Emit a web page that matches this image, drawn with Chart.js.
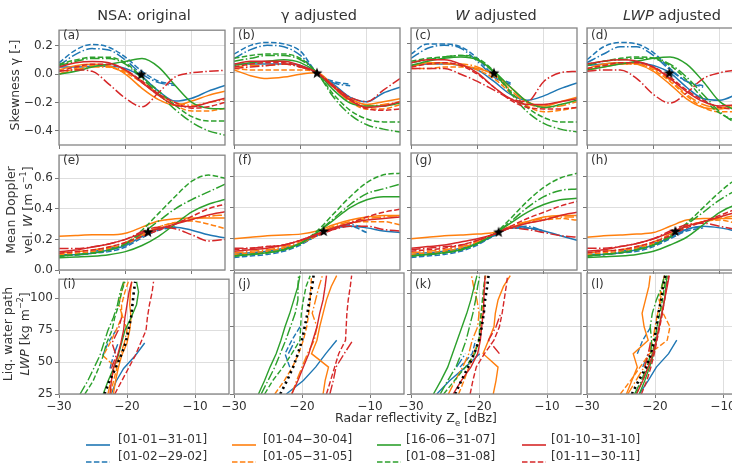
<!DOCTYPE html>
<html>
<head>
<meta charset="utf-8">
<script src="https://cdn.jsdelivr.net/npm/chart.js@4.4.1/dist/chart.umd.min.js"></script>
<style>
  body { margin: 0; width: 732px; height: 466px; overflow: hidden; background: #fff; position: relative;
         font-family: "DejaVu Sans", sans-serif; color: #333; }
  canvas { position: absolute; }
  .txt { position: absolute; white-space: nowrap; }
  .title { font-size: 14.5px; transform: translateX(-50%); top: 7px; line-height: 16px; }
  .tag { font-size: 12px; line-height: 12px; }
  .ylab { font-size: 12.5px; line-height: 13px; text-align: center; transform: translate(-50%, -50%) rotate(-90deg); }
  .leg { font-size: 12px; line-height: 14px; }
</style>
</head>
<body>
<script>
// x nodes (radar reflectivity, dBz) for the skewness and velocity rows
const zeNodes = [-30, -27.5, -25, -22.5, -20, -17.5, -15, -12.5, -10, -7.5, -5]
// y nodes (LWP, kg m-2) for the bottom row
const lwpNodes = [25, 35, 45, 55, 65, 75, 85, 95, 105, 113]

const periodLabels = ['[01-01\u221231-01]', '[01-02\u221229-02]', '[01-04\u221230-04]', '[01-05\u221231-05]',
  '[16-06\u221231-07]', '[01-08\u221231-08]', '[01-10\u221231-10]', '[01-11\u221230-11]']

// series order: Jan, Feb, Mar, Apr, May, Jun, Jul, Aug, Sep, Oct, Nov, Dec
const skewOriginal = [
  [0.05, 0.05, 0.055, 0.055, 0.04, -0.02, -0.12, -0.19, -0.17, -0.12, -0.08],
  [0.08, 0.17, 0.21, 0.19, 0.12, 0.02, -0.05, -0.07, null, null, null],
  [0.06, 0.14, 0.18, 0.17, 0.1, 0.0, -0.06, -0.08, null, null, null],
  [0.03, 0.06, 0.07, 0.06, 0.0, -0.1, -0.18, -0.22, -0.19, -0.15, -0.12],
  [0.0, 0.04, 0.06, 0.05, 0.01, -0.06, -0.15, -0.22, -0.26, -0.26, -0.24],
  [0.0, 0.03, 0.05, 0.05, 0.02, -0.05, -0.14, -0.2, -0.22, -0.2, -0.18],
  [0.0, 0.02, 0.05, 0.07, 0.09, 0.11, 0.05, -0.08, -0.2, -0.24, -0.245],
  [0.07, 0.1, 0.12, 0.12, 0.08, -0.02, -0.12, -0.22, -0.3, -0.33, -0.33],
  [0.06, 0.09, 0.11, 0.11, 0.07, -0.03, -0.14, -0.25, -0.34, -0.4, -0.43],
  [0.05, 0.08, 0.09, 0.08, 0.03, -0.06, -0.15, -0.22, -0.23, -0.2, -0.17],
  [0.02, 0.05, 0.07, 0.07, 0.03, -0.05, -0.14, -0.2, -0.24, -0.23, -0.2],
  [0.02, 0.03, 0.02, -0.07, -0.17, -0.23, -0.13, -0.02, 0.01, 0.02, 0.027]
]
const skewGammaAdj = [
  [0.06, 0.06, 0.06, 0.06, 0.05, 0, -0.08, -0.17, -0.2, -0.14, -0.1],
  [0.13, 0.19, 0.21, 0.2, 0.15, 0, -0.06, -0.08, null, null, null],
  [0.1, 0.16, 0.19, 0.18, 0.12, 0, -0.07, -0.09, null, null, null],
  [0.02, -0.02, -0.04, -0.03, -0.01, 0, -0.09, -0.18, -0.22, -0.2, -0.18],
  [0.03, 0.02, 0.02, 0.02, 0.02, 0, -0.1, -0.2, -0.25, -0.25, -0.22],
  [0.04, 0.05, 0.05, 0.06, 0.04, 0, -0.1, -0.2, -0.23, -0.22, -0.2],
  [0.05, 0.07, 0.08, 0.09, 0.07, 0, -0.12, -0.21, -0.23, -0.23, -0.21],
  [0.1, 0.12, 0.13, 0.13, 0.1, 0, -0.15, -0.26, -0.32, -0.34, -0.34],
  [0.08, 0.1, 0.12, 0.12, 0.09, 0, -0.17, -0.29, -0.36, -0.39, -0.41],
  [0.06, 0.08, 0.08, 0.08, 0.05, 0, -0.1, -0.19, -0.24, -0.23, -0.2],
  [0.04, 0.06, 0.07, 0.07, 0.04, 0, -0.09, -0.18, -0.25, -0.26, -0.25],
  [0.03, 0.04, 0.05, 0.06, 0.04, 0, -0.09, -0.17, -0.2, -0.12, -0.04]
]
const skewWAdj = [
  [0.05, 0.06, 0.06, 0.05, 0.02, -0.06, -0.15, -0.19, -0.16, -0.11, -0.07],
  [0.13, 0.2, 0.2, 0.18, 0.1, -0.02, -0.07, null, null, null, null],
  [0.1, 0.17, 0.19, 0.17, 0.08, -0.03, -0.08, null, null, null, null],
  [0.04, 0.07, 0.07, 0.05, 0.03, -0.01, -0.1, -0.2, -0.23, -0.2, -0.17],
  [0.03, 0.03, 0.04, 0.04, 0.02, -0.04, -0.14, -0.23, -0.27, -0.26, -0.24],
  [0.05, 0.06, 0.06, 0.06, 0.04, -0.02, -0.12, -0.21, -0.24, -0.23, -0.2],
  [0.05, 0.08, 0.1, 0.11, 0.09, 0.01, -0.1, -0.2, -0.24, -0.22, -0.19],
  [0.08, 0.1, 0.11, 0.12, 0.1, 0.01, -0.13, -0.24, -0.31, -0.34, -0.34],
  [0.07, 0.09, 0.11, 0.12, 0.09, 0.0, -0.14, -0.27, -0.35, -0.39, -0.41],
  [0.07, 0.09, 0.09, 0.06, 0.0, -0.1, -0.18, -0.22, -0.22, -0.2, -0.18],
  [0.04, 0.06, 0.07, 0.05, -0.01, -0.1, -0.19, -0.24, -0.25, -0.25, -0.24],
  [0.03, 0.03, 0.03, -0.01, -0.06, -0.12, -0.18, -0.2, -0.06, 0.0, 0.01]
]
const skewLwpAdj = [
  [0.05, 0.06, 0.07, 0.07, 0.05, 0.0, -0.1, -0.18, -0.19, -0.15, -0.1],
  [0.09, 0.18, 0.21, 0.2, 0.14, 0.03, -0.06, -0.1, null, null, null],
  [0.07, 0.13, 0.18, 0.18, 0.12, 0.02, -0.06, -0.09, null, null, null],
  [0.03, 0.06, 0.07, 0.06, 0.01, -0.08, -0.18, -0.24, -0.25, -0.23, -0.2],
  [0.02, 0.05, 0.06, 0.06, 0.02, -0.06, -0.16, -0.24, -0.27, -0.27, -0.25],
  [0.02, 0.04, 0.06, 0.06, 0.03, -0.05, -0.15, -0.22, -0.24, -0.23, -0.21],
  [0.02, 0.04, 0.06, 0.08, 0.1, 0.11, 0.06, -0.06, -0.2, -0.26, -0.28],
  [0.06, 0.08, 0.1, 0.11, 0.1, 0.05, -0.05, -0.18, -0.28, -0.33, -0.35],
  [0.05, 0.08, 0.09, 0.1, 0.1, 0.06, -0.03, -0.15, -0.27, -0.35, -0.4],
  [0.06, 0.08, 0.09, 0.08, 0.04, -0.04, -0.13, -0.2, -0.23, -0.22, -0.2],
  [0.03, 0.05, 0.07, 0.07, 0.04, -0.03, -0.12, -0.19, -0.24, -0.25, -0.24],
  [0.01, 0.02, 0.02, -0.04, -0.15, -0.21, -0.14, -0.04, 0.0, 0.02, 0.03]
]

const velOriginal = [
  [0.1, 0.1, 0.11, 0.13, 0.16, 0.22, 0.27, 0.28, 0.26, 0.23, 0.21],
  [0.09, 0.1, 0.11, 0.12, 0.15, 0.21, 0.26, 0.28, null, null, null],
  [0.1, 0.1, 0.12, 0.14, 0.17, 0.22, 0.27, 0.28, null, null, null],
  [0.22, 0.225, 0.23, 0.23, 0.24, 0.28, 0.32, 0.335, 0.34, 0.34, 0.34],
  [0.1, 0.11, 0.12, 0.14, 0.17, 0.22, 0.28, 0.31, 0.32, 0.3, 0.27],
  [0.11, 0.12, 0.13, 0.15, 0.18, 0.23, 0.28, 0.31, 0.33, 0.35, 0.36],
  [0.08, 0.085, 0.09, 0.1, 0.12, 0.16, 0.22, 0.3, 0.38, 0.43, 0.46],
  [0.09, 0.1, 0.11, 0.13, 0.17, 0.26, 0.37, 0.48, 0.58, 0.62, 0.6],
  [0.09, 0.1, 0.11, 0.13, 0.17, 0.24, 0.32, 0.4, 0.46, 0.51, 0.56],
  [0.12, 0.13, 0.15, 0.17, 0.2, 0.24, 0.27, 0.3, 0.33, 0.36, 0.38],
  [0.11, 0.12, 0.13, 0.15, 0.18, 0.22, 0.26, 0.3, 0.35, 0.4, 0.43],
  [0.14, 0.14, 0.15, 0.17, 0.2, 0.25, 0.28, 0.27, 0.23, 0.19, 0.2]
]
const velGammaAdj = [
  [0.1, 0.11, 0.12, 0.14, 0.17, 0.22, 0.27, 0.28, 0.27, 0.25, 0.24],
  [0.08, 0.09, 0.1, 0.12, 0.16, 0.22, 0.27, 0.28, 0.24, null, null],
  [0.1, 0.11, 0.12, 0.14, 0.17, 0.22, 0.27, 0.29, 0.27, null, null],
  [0.2, 0.21, 0.22, 0.225, 0.23, 0.25, 0.29, 0.32, 0.34, 0.35, 0.35],
  [0.1, 0.11, 0.12, 0.14, 0.17, 0.22, 0.27, 0.3, 0.31, 0.31, 0.29],
  [0.11, 0.12, 0.13, 0.15, 0.18, 0.23, 0.28, 0.31, 0.33, 0.34, 0.35],
  [0.09, 0.1, 0.11, 0.13, 0.17, 0.24, 0.32, 0.4, 0.45, 0.47, 0.47],
  [0.09, 0.1, 0.11, 0.13, 0.17, 0.25, 0.36, 0.47, 0.56, 0.61, 0.62],
  [0.09, 0.1, 0.11, 0.13, 0.17, 0.24, 0.33, 0.42, 0.49, 0.52, 0.55],
  [0.12, 0.13, 0.14, 0.16, 0.19, 0.23, 0.27, 0.3, 0.32, 0.33, 0.34],
  [0.13, 0.14, 0.15, 0.16, 0.19, 0.22, 0.26, 0.3, 0.34, 0.37, 0.39],
  [0.14, 0.14, 0.15, 0.16, 0.19, 0.23, 0.26, 0.28, 0.28, 0.26, 0.25]
]
const velWAdj = [
  [0.1, 0.11, 0.12, 0.14, 0.17, 0.22, 0.27, 0.27, 0.25, 0.22, 0.19],
  [0.08, 0.09, 0.1, 0.12, 0.16, 0.22, 0.27, 0.27, 0.24, null, null],
  [0.09, 0.1, 0.11, 0.13, 0.17, 0.22, 0.27, 0.28, 0.25, null, null],
  [0.2, 0.21, 0.22, 0.225, 0.23, 0.24, 0.27, 0.31, 0.34, 0.35, 0.35],
  [0.1, 0.11, 0.12, 0.14, 0.18, 0.23, 0.27, 0.3, 0.32, 0.33, 0.32],
  [0.11, 0.12, 0.13, 0.15, 0.18, 0.23, 0.28, 0.31, 0.33, 0.34, 0.34],
  [0.09, 0.1, 0.11, 0.13, 0.17, 0.23, 0.3, 0.37, 0.42, 0.45, 0.46],
  [0.09, 0.1, 0.11, 0.13, 0.17, 0.23, 0.33, 0.44, 0.53, 0.59, 0.62],
  [0.09, 0.1, 0.11, 0.13, 0.17, 0.23, 0.31, 0.4, 0.47, 0.51, 0.52],
  [0.14, 0.15, 0.16, 0.18, 0.2, 0.23, 0.27, 0.3, 0.32, 0.35, 0.37],
  [0.12, 0.13, 0.14, 0.16, 0.19, 0.23, 0.28, 0.33, 0.37, 0.41, 0.44],
  [0.13, 0.14, 0.15, 0.16, 0.19, 0.23, 0.27, 0.26, 0.24, 0.22, 0.21]
]
const velLwpAdj = [
  [0.1, 0.1, 0.11, 0.13, 0.16, 0.21, 0.26, 0.28, 0.27, 0.25, 0.23],
  [0.09, 0.1, 0.11, 0.12, 0.15, 0.2, 0.25, 0.27, null, null, null],
  [0.1, 0.1, 0.12, 0.14, 0.17, 0.21, 0.26, 0.28, null, null, null],
  [0.21, 0.22, 0.225, 0.23, 0.24, 0.28, 0.32, 0.33, 0.33, 0.33, 0.33],
  [0.1, 0.11, 0.12, 0.14, 0.17, 0.22, 0.28, 0.31, 0.32, 0.3, 0.28],
  [0.11, 0.12, 0.13, 0.15, 0.18, 0.23, 0.28, 0.31, 0.33, 0.35, 0.36],
  [0.08, 0.085, 0.09, 0.1, 0.12, 0.16, 0.21, 0.29, 0.37, 0.42, 0.45],
  [0.09, 0.1, 0.11, 0.13, 0.16, 0.22, 0.3, 0.4, 0.5, 0.58, 0.6],
  [0.09, 0.1, 0.11, 0.13, 0.16, 0.21, 0.29, 0.37, 0.45, 0.51, 0.55],
  [0.12, 0.13, 0.15, 0.17, 0.2, 0.24, 0.28, 0.31, 0.34, 0.37, 0.39],
  [0.11, 0.12, 0.13, 0.15, 0.18, 0.22, 0.27, 0.31, 0.35, 0.39, 0.42],
  [0.14, 0.14, 0.15, 0.17, 0.2, 0.25, 0.29, 0.3, 0.28, 0.26, 0.25]
]

// bottom row: reflectivity at each LWP node
const zeOriginal = [
  [-22.3, -21.6, -20.5, -18.8, -17.4, null, null, null, null, null],
  [null, null, null, -23.6, -22.8, -21.6, null, null, null, null],
  [null, null, -22.5, -22.0, -21.3, null, null, null, null, null],
  [-22.0, -21.7, -21.3, -20.8, -20.0, -19.6, -19.4, -19.6, -19.5, -19.3],
  [-22.4, -22.0, -21.5, -23.5, -22.5, -21.6, -20.8, -20.8, -20.3, -19.8],
  [-22.8, -22.4, -21.9, -21.0, -20.4, -20.0, -20.6, -21.2, -20.8, -20.4],
  [-23.5, -22.8, -22.0, -21.3, -20.8, -20.3, -19.4, -18.6, -18.3, -18.6],
  [-26.2, -25.0, -24.2, -23.5, -23.0, -22.2, -21.8, -21.2, -20.8, -20.3],
  [-26.9, -25.8, -24.9, -24.0, -23.4, -22.8, -22.0, -21.4, -21.0, -20.5],
  [-22.5, -22.3, -22.0, -21.4, -20.9, -20.5, -20.3, -20.0, -19.7, -19.3],
  [-21.8, -20.8, -19.8, -18.8, -18.0, -17.2, -17.0, -16.7, -16.3, -16.1],
  [null, null, -22.3, -21.6, -22.2, -21.3, -20.8, null, null, null]
]
const zeGammaAdj = [
  [-22.3, -19.8, -18.0, -16.5, -14.9, null, null, null, null, null],
  [null, null, -21.8, -22.5, -21.5, -20.3, null, null, null, null],
  [null, null, null, -22.0, -21.0, null, null, null, null, null],
  [-16.9, -16.6, -16.1, -18.6, -17.8, -17.4, -16.9, -16.4, -15.7, -14.9],
  [-24.0, -22.6, -21.4, -20.5, -19.8, -19.3, -19.0, -18.8, -18.7, -18.6],
  [-21.5, -20.8, -20.0, -19.2, -18.2, -17.8, -18.5, -18.0, -17.5, -17.0],
  [-26.4, -25.5, -24.7, -23.8, -23.1, -22.5, -21.8, -21.2, -20.6, -20.3],
  [-25.5, -24.3, -22.8, -21.5, -20.3, -20.2, -20.1, -19.8, -19.4, -18.8],
  [-26.0, -25.0, -24.0, -23.2, -22.4, -21.7, -21.0, -20.6, -20.6, -20.5],
  [-21.5, -20.6, -19.8, -19.0, -18.4, -17.8, -17.4, -16.9, -16.6, -16.4],
  [-16.4, -15.8, -15.2, -14.6, -13.6, -13.5, -13.4, -13.2, -12.9, -12.7],
  [-15.9, -15.4, -15.0, -13.8, -12.5, null, null, null, null, null]
]
const zeWAdj = [
  [-26.2, -24.3, -22.0, -19.9, null, null, null, null, null, null],
  [null, null, -22.8, -21.0, -20.5, null, null, null, null, null],
  [null, null, -23.3, -22.0, null, null, null, null, null, null],
  [-17.9, -17.5, -17.2, -19.4, -18.6, -17.8, -17.6, -17.2, -16.4, -15.4],
  [-23.0, -22.2, -21.5, -20.8, -20.0, -19.8, -19.6, -19.4, -19.2, -19.0],
  [-24.5, -23.5, -22.4, -21.5, -21.0, -20.2, -20.0, -20.3, -20.8, -21.1],
  [-26.7, -25.6, -24.6, -23.9, -23.2, -22.5, -21.8, -21.2, -20.7, -20.3],
  [-25.2, -23.6, -22.0, -20.6, -20.0, -19.9, -19.7, -19.5, -19.3, -19.1],
  [-25.7, -24.6, -23.4, -22.6, -21.9, -21.4, -20.9, -20.5, -20.2, -19.9],
  [-23.8, -22.6, -21.2, -20.2, -19.8, -19.6, -19.4, -19.3, -19.2, -19.1],
  [-21.3, -20.9, -20.4, -19.2, -17.8, -17.0, -16.6, -16.3, -16.0, -15.8],
  [null, null, null, -17.0, -18.6, -17.5, -16.8, null, null, null]
]
const zeLwpAdj = [
  [-22.3, -21.0, -19.8, -18.0, -16.8, null, null, null, null, null],
  [null, null, null, -22.6, -21.8, -20.6, null, null, null, null],
  [null, null, -21.8, -21.0, null, null, null, null, null, null],
  [-24.2, -23.4, -22.6, -23.2, -21.0, -21.6, -21.9, -21.4, -20.9, -20.7],
  [-25.1, -23.6, -22.2, -20.8, -18.2, -17.8, -18.8, -19.4, -19.0, -18.6],
  [-24.0, -22.8, -21.6, -20.9, -20.3, -20.0, -19.6, -19.2, -18.9, -18.6],
  [-22.3, -21.5, -20.8, -20.2, -19.8, -19.4, -19.0, -18.6, -18.4, -18.2],
  [-22.8, -21.8, -21.0, -20.4, -20.0, -19.7, -19.3, -18.9, -18.6, -18.3],
  [-23.0, -22.0, -21.2, -20.6, -20.5, -20.7, -20.4, -19.8, -19.0, -18.6],
  [-22.7, -21.8, -21.0, -20.3, -19.8, -19.4, -19.0, -18.6, -18.2, -17.9],
  [-22.0, -21.2, -20.6, -20.1, -19.7, -19.3, -18.9, -18.6, -18.3, -18.0],
  [null, null, -21.5, -21.0, -20.6, null, null, null, null, null]
]
// black dotted reference curves, one per column
const zeDotted = [
  [-23.3, -22.6, -21.7, -20.9, -20.2, -19.8, -19.4, -19.2, -19.0, -18.8],
  [-23.2, -22.2, -21.3, -20.6, -20.0, -19.6, -19.2, -18.9, -18.5, -18.3],
  [-23.5, -22.6, -21.6, -20.7, -20.0, -19.6, -19.3, -19.1, -18.8, -18.6],
  [-23.4, -22.4, -21.3, -20.6, -20.1, -19.8, -19.5, -19.1, -18.8, -18.5]
]
// star markers (x, y) per column
const starSkew = [[-17.6, 0.0], [-17.5, 0.0], [-17.5, 0.0], [-17.6, 0.0]]
const starVel = [[-16.6, 0.25], [-16.5, 0.25], [-16.8, 0.245], [-16.7, 0.25]]

const BLUE = '#1f77b4', ORANGE = '#ff7f0e', GREEN = '#2ca02c', RED = '#d62728'
const seriesColor = [BLUE, BLUE, BLUE, ORANGE, ORANGE, ORANGE, GREEN, GREEN, GREEN, RED, RED, RED]
const DASHES = [[], [5.5, 2.4], [9.6, 2.4, 1.5, 2.4]]

const colLeft = [59, 234, 411, 587]
const rowTop = [24, 149, 273]
const BOX_W = 170
const BOX_H = 121
const PAD_L = 52
const PAD_B = 22
const PAD_T = 3
const PAD_R = 3

const starImg = (() => {
  const c = document.createElement('canvas')
  c.width = 12
  c.height = 12
  const g = c.getContext('2d')
  g.fillStyle = '#000'
  g.beginPath()
  for (let i = 0; i < 10; i++) {
    const r = i % 2 === 0 ? 5.8 : 2.4
    const a = -Math.PI / 2 + (i * Math.PI) / 5
    g.lineTo(6 + r * Math.cos(a), 6.5 + r * Math.sin(a))
  }
  g.closePath()
  g.fill()
  return c
})()

const framePlugin = {
  id: 'frame',
  afterDraw(chart) {
    const { ctx, chartArea: a } = chart
    ctx.save()
    ctx.strokeStyle = '#858585'
    ctx.lineWidth = 1.3
    ctx.strokeRect(a.left, a.top, a.right - a.left, a.bottom - a.top)
    ctx.restore()
  }
}

const fmtMinus = s => s.replace('-', '\u2212')

const rows = [
  { min: -0.5, max: 0.31, ticks: [-0.4, -0.2, 0, 0.2], fmt: v => fmtMinus(v.toFixed(1)) },
  { min: 0, max: 0.75, ticks: [0, 0.2, 0.4, 0.6], fmt: v => v.toFixed(1) },
  { min: 25, max: 115, ticks: [25, 50, 75, 100], fmt: v => String(v) }
]

function lineSets(rowIdx, col) {
  const sets = []
  if (rowIdx < 2) {
    const src = rowIdx === 0
      ? [skewOriginal, skewGammaAdj, skewWAdj, skewLwpAdj][col]
      : [velOriginal, velGammaAdj, velWAdj, velLwpAdj][col]
    const star = rowIdx === 0 ? starSkew[col] : starVel[col]
    sets.push({
      data: [{ x: star[0], y: star[1] }],
      showLine: false,
      pointStyle: starImg,
      pointRadius: 6,
      order: -1
    })
    for (let s = src.length - 1; s >= 0; s--) {
      sets.push({
        data: src[s].map((v, i) => ({ x: zeNodes[i], y: v })).filter(p => p.y !== null),
        borderColor: seriesColor[s],
        borderDash: DASHES[s % 3],
        borderWidth: 1.5,
        pointRadius: 0,
        cubicInterpolationMode: 'monotone'
      })
    }
  } else {
    const src = [zeOriginal, zeGammaAdj, zeWAdj, zeLwpAdj][col]
    sets.push({
      data: zeDotted[col].map((z, i) => ({ x: z, y: lwpNodes[i] })),
      borderColor: '#000',
      borderDash: [2.2, 3.6],
      borderWidth: 2.6,
      pointRadius: 0,
      tension: 0,
      order: -1
    })
    for (let s = src.length - 1; s >= 0; s--) {
      sets.push({
        data: src[s].map((z, i) => ({ x: z, y: lwpNodes[i] })).filter(p => p.x !== null),
        borderColor: seriesColor[s],
        borderDash: DASHES[s % 3],
        borderWidth: 1.4,
        pointRadius: 0,
        tension: 0
      })
    }
  }
  return sets
}

function makePanel(rowIdx, col) {
  const r = rows[rowIdx]
  const canvas = document.createElement('canvas')
  const w = BOX_W + PAD_L + PAD_R
  const h = BOX_H + PAD_T + PAD_B
  canvas.width = w
  canvas.height = h
  canvas.style.left = (colLeft[col] - PAD_L) + 'px'
  canvas.style.top = (rowTop[rowIdx] - PAD_T) + 'px'
  document.body.appendChild(canvas)

  const tickFont = { family: 'DejaVu Sans', size: 12 }
  new Chart(canvas.getContext('2d'), {
    type: 'line',
    data: { datasets: lineSets(rowIdx, col) },
    options: {
      responsive: false,
      animation: false,
      devicePixelRatio: 1,
      layout: { padding: { top: PAD_T, right: PAD_R, left: 0, bottom: 0 } },
      plugins: { legend: { display: false }, tooltip: { enabled: false } },
      scales: {
        x: {
          type: 'linear',
          min: -30,
          max: -5,
          afterFit: s => { s.height = PAD_B },
          afterBuildTicks: s => { s.ticks = [-30, -20, -10].map(v => ({ value: v })) },
          border: { display: false },
          grid: { color: '#dedede', lineWidth: 1, drawTicks: true, tickLength: 4, tickColor: '#777' },
          ticks: {
            display: rowIdx === 2,
            color: '#333',
            font: tickFont,
            padding: 2,
            maxRotation: 0,
            callback: v => fmtMinus(String(v))
          }
        },
        y: {
          type: 'linear',
          min: r.min,
          max: r.max,
          afterFit: s => { s.width = PAD_L },
          afterBuildTicks: s => { s.ticks = r.ticks.map(v => ({ value: v })) },
          border: { display: false },
          grid: { color: '#dedede', lineWidth: 1, drawTicks: true, tickLength: 4, tickColor: '#777' },
          ticks: {
            display: col === 0,
            color: '#333',
            font: tickFont,
            padding: 2,
            callback: v => r.fmt(v)
          }
        }
      }
    },
    plugins: [framePlugin]
  })
}

for (let ri = 0; ri < 3; ri++) {
  for (let c = 0; c < 4; c++) makePanel(ri, c)
}

function addText(html, cls, style) {
  const d = document.createElement('div')
  d.className = 'txt ' + cls
  d.innerHTML = html
  Object.assign(d.style, style)
  document.body.appendChild(d)
  return d
}

const colTitles = ['NSA: original', '\u03b3 adjusted', '<i>W</i> adjusted', '<i>LWP</i> adjusted']
colTitles.forEach((t, c) => addText(t, 'title', { left: (colLeft[c] + BOX_W / 2) + 'px' }))

const tags = ['(a)', '(b)', '(c)', '(d)', '(e)', '(f)', '(g)', '(h)', '(i)', '(j)', '(k)', '(l)']
tags.forEach((t, i) => {
  const ri = Math.floor(i / 4)
  const c = i % 4
  addText(t, 'tag', { left: (colLeft[c] + 4) + 'px', top: (rowTop[ri] + 5) + 'px' })
})

addText('Skewness \u03b3 [-]', 'ylab', { left: '14px', top: (rowTop[0] + BOX_H / 2) + 'px' })
addText('Mean Doppler<br>vel. <i>W</i> [m s<sup style="font-size:8px">\u22121</sup>]', 'ylab',
  { left: '19px', top: (rowTop[1] + BOX_H / 2) + 'px' })
addText('Liq. water path<br><i>LWP</i> [kg m<sup style="font-size:8px">\u22122</sup>]', 'ylab',
  { left: '16px', top: (rowTop[2] + BOX_H / 2) + 'px' })

addText('Radar reflectivity Z<sub style="font-size:8.5px">e</sub> [dBz]', 'leg',
  { left: '416px', top: '411px', fontSize: '12.5px', transform: 'translateX(-50%)' })

// legend: visible two rows of the figure legend
const legLineX = [86, 232, 377, 522]
const legTextX = [118, 263, 406, 551]
const legRowY = [432, 449]
const legColors = [BLUE, ORANGE, GREEN, RED]
periodLabels.forEach((lab, i) => {
  const c = Math.floor(i / 2)
  const rr = i % 2
  const dash = rr === 0 ? '' : 'stroke-dasharray="5.5 2.4"'
  addText('<svg width="24" height="4"><line x1="0" y1="2" x2="24" y2="2" stroke="' + legColors[c] +
    '" stroke-width="1.6" ' + dash + '/></svg>', 'leg',
    { left: legLineX[c] + 'px', top: (legRowY[rr] + 4) + 'px' })
  addText(lab, 'leg', { left: legTextX[c] + 'px', top: legRowY[rr] + 'px' })
})
</script>
</body>
</html>
